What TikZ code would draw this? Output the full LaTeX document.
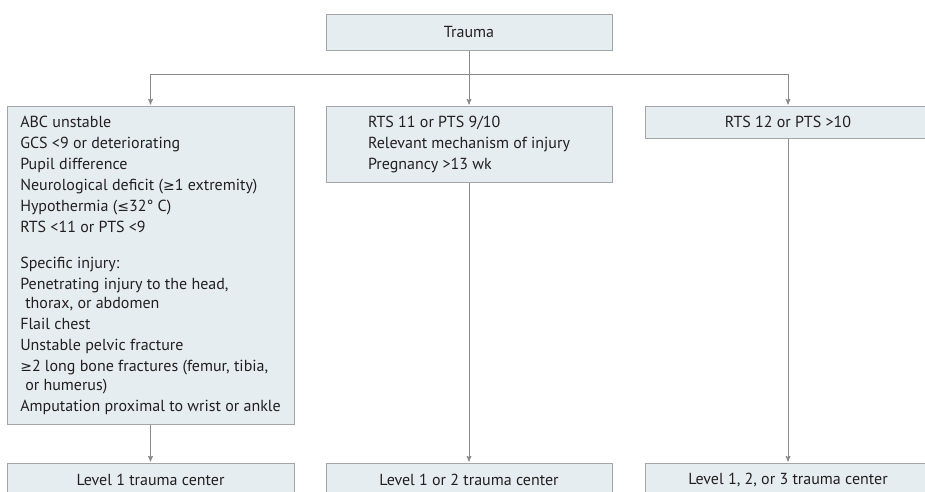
\documentclass[tikz,border=0pt]{standalone}
\usepackage{fontspec}
\setmainfont{PT Sans}
\newfontfamily\symfont{DejaVu Sans}
\usetikzlibrary{arrows}
\definecolor{boxfill}{HTML}{E6EDF1}
\definecolor{boxline}{HTML}{A3A6A8}
\definecolor{linkgray}{HTML}{8A8A8A}
\definecolor{ink}{HTML}{231F20}
\newcommand{\atleast}{{\symfont\fontsize{14}{19}\selectfont ≥}}
\newcommand{\atmost}{{\symfont\fontsize{14}{19}\selectfont ≤}}

\begin{document}
\begin{tikzpicture}[->,>=stealth',shorten >=1pt,x=1pt,y=-1pt,line width=1pt,linkgray]
\tikzstyle{box}=[draw=boxline,fill=boxfill,text=ink,minimum width=286pt,align=left,
  inner sep=0pt,font=\fontsize{16}{19}\selectfont]
\useasboundingbox (0,0) rectangle (925,491);
\node[box,minimum height=36pt] (trauma) at (469,32) {Trauma};
\node[box,minimum width=287pt,minimum height=318pt] (left) at (150.5,265) {ABC unstable\\[2pt]
  GCS <9 or deteriorating\\[2pt]
  Pupil difference\\[2pt]
  Neurological deficit (\atleast1 extremity)\\[2pt]
  Hypothermia (\atmost32° C)\\[2pt]
  RTS <11 or PTS <9\\[17pt]
  Specific injury:\\[2pt]
  Penetrating injury to the head,\\
  \hspace*{5pt}thorax, or abdomen\\[2pt]
  Flail chest\\[2pt]
  Unstable pelvic fracture\\[2pt]
  \atleast2 long bone fractures (femur, tibia,\\
  \hspace*{5pt}or humerus)\\[2pt]
  Amputation proximal to wrist or ankle};
\node[box,minimum height=76pt] (mid) at (469,144) {RTS 11 or PTS 9/10\\[2pt]
  Relevant mechanism of injury\\[2pt]
  Pregnancy >13 wk};
\node[box,minimum height=32pt] (right) at (788,122) {RTS 12 or PTS >10};
\node[box,minimum width=287pt,minimum height=34pt] (lvl1) at (150.5,480) {Level 1 trauma center};
\node[box,minimum height=34pt] (lvl12) at (469,480) {Level 1 or 2 trauma center};
\node[box,minimum height=34pt] (lvl123) at (788,480) {Level 1, 2, or 3 trauma center};
\coordinate (split) at (469,74);
\draw (trauma) -- (mid);
\draw (split) -| (left);
\draw (split) -| (right);
\draw (left) -- (lvl1);
\draw (mid) -- (lvl12);
\draw (right) -- (lvl123);
\end{tikzpicture}
\end{document}
